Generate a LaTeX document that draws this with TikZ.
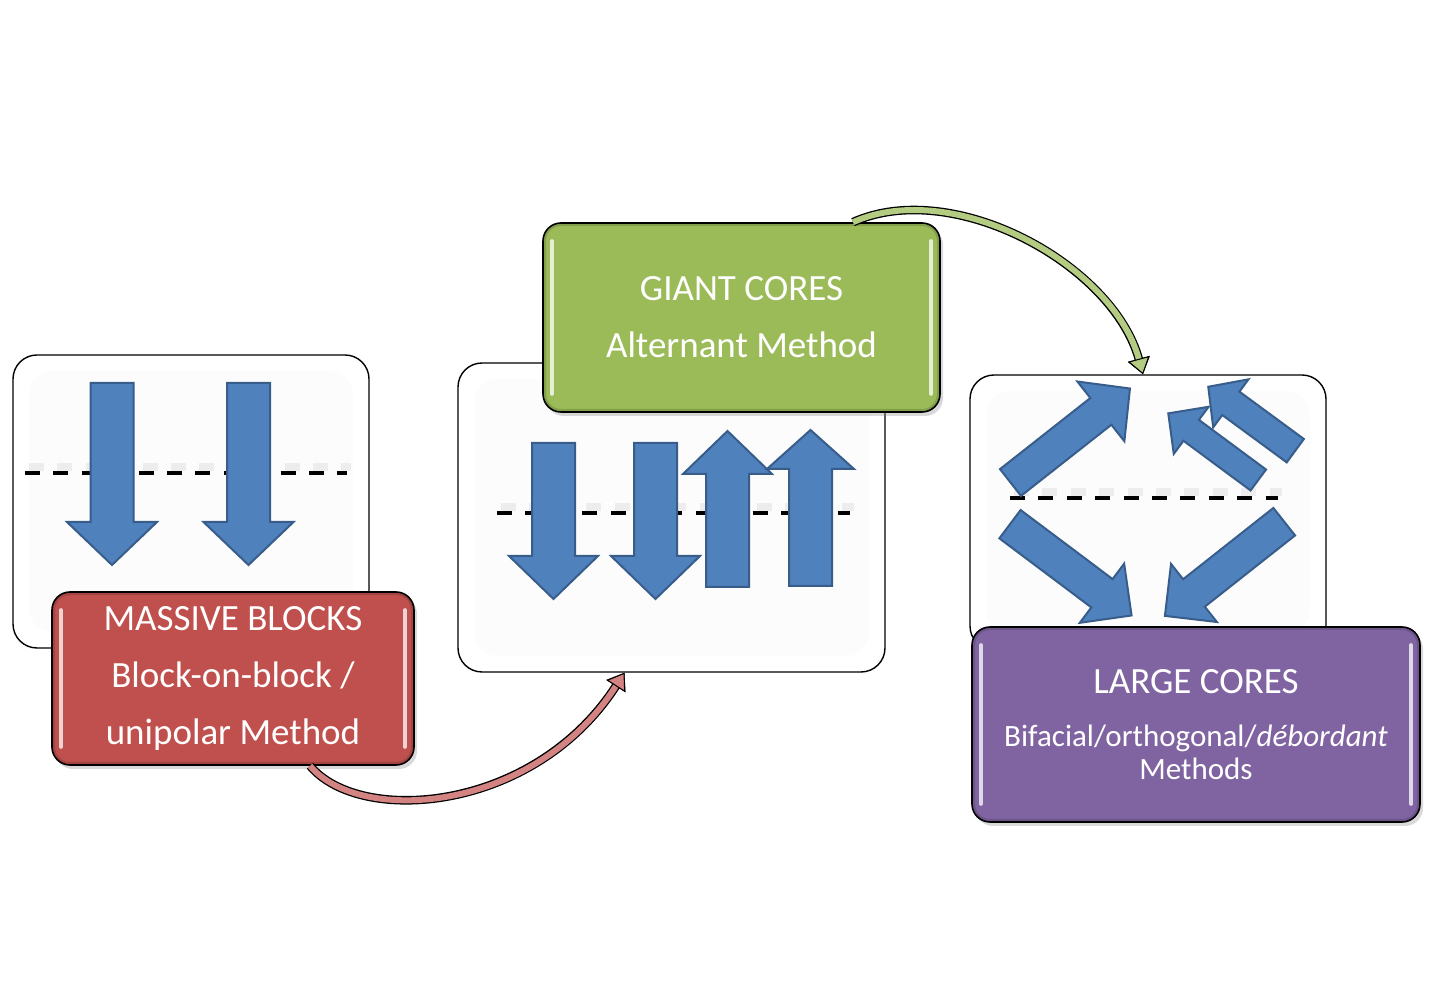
\documentclass[tikz,border=0pt]{standalone}
\usepackage{fontspec}
\setmainfont{Carlito}
\usetikzlibrary{arrows.meta,calc,shadows}

\definecolor{boxred}{HTML}{C0504D}
\definecolor{boxgreen}{HTML}{9BBB59}
\definecolor{boxpurple}{HTML}{8064A2}
\definecolor{arrowblue}{HTML}{4F81BD}
\definecolor{arrowedge}{HTML}{385D8A}

\newcommand{\blockarrow}[7]{%
  \begin{scope}[shift={(#1,#2)},rotate=#3]
    \draw[barrow] (0,-#5) -- ({#4-#7},-#5) -- ({#4-#7},-#6) -- (#4,0)
      -- ({#4-#7},#6) -- ({#4-#7},#5) -- (0,#5) -- cycle;
  \end{scope}}
\newcommand{\smalltxt}{\fontsize{15.5pt}{16.5pt}\selectfont}

\begin{document}
\begin{tikzpicture}[x=0.5pt, y=-0.5pt,
  panel/.style={draw=black, line width=0.7pt, rounded corners=12pt, fill=white,
    path picture={\fill[black!1.2] ([shift={(8pt,-8pt)}]path picture bounding box.north west)
      rectangle ([shift={(-8pt,8pt)}]path picture bounding box.south east);}},
  colbox/.style={draw=black, line width=0.8pt, rounded corners=9pt, fill=#1, text=white,
    align=center, font=\fontsize{18.5pt}{28.5pt}\selectfont,
    drop shadow={shadow xshift=1.5pt, shadow yshift=-2pt, opacity=.3},
    path picture={
      \draw[#1!85!black, line width=3pt] (path picture bounding box.north west)
        rectangle (path picture bounding box.south east);
      \draw[#1!25!white, line width=1.8pt, line cap=round]
        ([shift={(4.5pt,-9pt)}]path picture bounding box.north west)
        -- ([shift={(4.5pt,9pt)}]path picture bounding box.south west);
      \draw[#1!25!white, line width=1.8pt, line cap=round]
        ([shift={(-4.5pt,-9pt)}]path picture bounding box.north east)
        -- ([shift={(-4.5pt,9pt)}]path picture bounding box.south east);}},
  barrow/.style={fill=arrowblue, draw=arrowedge, line width=1pt, line join=miter},
  dashline/.style={line width=1.6pt, dash pattern=on 7.5pt off 6.7pt},
  dashblur/.style={line width=4pt, black!7, dash pattern=on 7.5pt off 6.7pt},
  link/.style={draw=#1, line width=3pt,
    preaction={draw=black, line width=4.3pt, -{Triangle[length=8pt, width=11pt]}},
    -{Triangle[length=8pt, width=11pt, line width=0.5pt, color=black, fill=#1]}}
]
\useasboundingbox (0,0) rectangle (1430,1004);

\node[panel, minimum width=178pt, minimum height=146.5pt] (pan1) at (191,501.5) {};
\node[panel, minimum width=213.5pt, minimum height=154.5pt] (pan2) at (671.5,517.5) {};
\node[panel, minimum width=178pt, minimum height=137.5pt] (pan3) at (1148,512.5) {};

\draw[dashblur] (29,467) -- (351,467);
\draw[dashline] (25,473) -- (347,473);
\draw[dashblur] (501,507) -- (854,507);
\draw[dashline] (497,513) -- (850,513);
\draw[dashblur] (1014,492) -- (1282,492);
\draw[dashline] (1010,498) -- (1278,498);

\blockarrow{112}{383}{-90}{182}{21.5}{45}{43}
\blockarrow{248.5}{383}{-90}{182}{21.5}{45}{43}
\blockarrow{553.5}{443}{-90}{156}{21.5}{44.5}{43}
\blockarrow{655.5}{443}{-90}{156}{21.5}{44.5}{43}
\blockarrow{727.5}{587}{90}{156}{21.5}{44.5}{43}
\blockarrow{810.5}{586}{90}{156}{21.5}{43.5}{39}
\blockarrow{1010.5}{482.5}{38.2}{152}{17}{38}{37}
\blockarrow{1258.3}{480}{143.5}{112}{13}{29.3}{28.5}
\blockarrow{1295.3}{450.7}{143.7}{108}{14.5}{29.8}{28}
\blockarrow{1010}{524.2}{-36.9}{152}{17.7}{37}{37}
\blockarrow{1284.2}{521.7}{-141.7}{152}{17.5}{37}{37}

\node[colbox=boxred, minimum width=181pt, minimum height=86.5pt] (massive) at (233,678.5)
  {MASSIVE BLOCKS\\Block-on-block /\\unipolar Method};
\node[colbox=boxgreen, minimum width=198.5pt, minimum height=94.5pt] (giant) at (741.5,317.5)
  {GIANT CORES\\Alternant Method};
\node[colbox=boxpurple, minimum width=224pt, minimum height=97.5pt] (large) at (1196,724.5)
  {LARGE CORES\\[-2pt]\smalltxt Bifacial/orthogonal/\textit{débordant}\\[-12pt]\smalltxt Methods};

\draw[link=boxred!70!white] ($(massive.south)+(77,0)$)
  .. controls ($(massive.south)+(127,60)$) and ($(pan2.south)+(-137,140)$)
  .. ($(pan2.south)+(-47,0)$);
\draw[link=boxgreen!75!white] ($(giant.north)+(111.5,0)$)
  .. controls ($(giant.north)+(211.5,-45)$) and ($(pan3.north)+(-35,-110)$)
  .. ($(pan3.north)+(-5,0)$);
\end{tikzpicture}
\end{document}
